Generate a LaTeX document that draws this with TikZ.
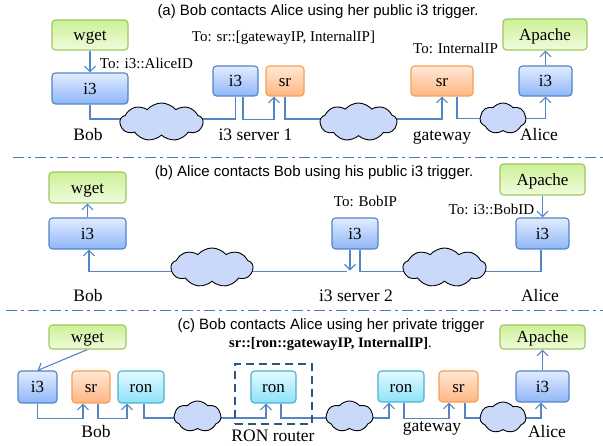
\documentclass[tikz,border=0pt]{standalone}
\usepackage{fontspec}
\setmainfont{Liberation Serif}
\newfontfamily\titlefont{Liberation Sans}
\usetikzlibrary{shapes.symbols, arrows.meta, backgrounds}

\definecolor{linkblue}{RGB}{84,134,196}
\definecolor{sepblue}{RGB}{70,120,186}
\definecolor{cloudfill}{RGB}{202,216,250}
\definecolor{dashnavy}{RGB}{50,85,125}

\tikzset{
  box/.style={draw, line width=1.1pt, rounded corners=3.5pt, inner sep=0pt, text height=12pt, text depth=0pt, font=\fontsize{17}{19}\selectfont},
  appbox/.style={box, draw={rgb,255:red,160;green,198;blue,96}, top color={rgb,255:red,204;green,240;blue,150}, bottom color={rgb,255:red,240;green,252;blue,222}},
  i3box/.style={box, draw={rgb,255:red,82;green,132;blue,194}, top color={rgb,255:red,226;green,236;blue,255}, bottom color={rgb,255:red,142;green,182;blue,248}},
  srbox/.style={box, draw={rgb,255:red,246;green,158;blue,84}, top color={rgb,255:red,255;green,232;blue,214}, bottom color={rgb,255:red,255;green,182;blue,130}},
  ronbox/.style={box, draw={rgb,255:red,76;green,176;blue,206}, top color={rgb,255:red,228;green,250;blue,255}, bottom color={rgb,255:red,140;green,226;blue,250}},
  net/.style={cloud, draw, black, line width=0.9pt, fill=cloudfill, cloud puffs=9, cloud puff arc=100, aspect=2, inner sep=0pt},
  link/.style={draw=linkblue, line width=1.1pt},
  arr/.style={link, -{Straight Barb[length=5.5pt,width=11pt]}},
  sep/.style={draw=sepblue, line width=0.9pt, dash pattern=on 11pt off 4pt on 3pt off 4pt},
  note/.style={anchor=base, font=\fontsize{15}{17}\selectfont, inner sep=0pt},
  place/.style={anchor=base, font=\fontsize{17.5}{19}\selectfont, inner sep=0pt},
  caption/.style={anchor=base, font=\titlefont\fontsize{15}{17}\selectfont, inner sep=0pt}
}

\begin{document}
\begin{tikzpicture}[x=1pt, y=-1pt]
  \useasboundingbox (0,0) rectangle (603,446);

  % Part (a)
  \node[caption] (capA) at (318,16) {(a) Bob contacts Alice using her public i3 trigger.};
  \node[appbox, minimum width=76pt, minimum height=30pt] (wgetA) at (90,35) {wget};
  \node[i3box, minimum width=76pt, minimum height=31pt] (bobA) at (90,88.5) {i3};
  \node[i3box, minimum width=45pt, minimum height=30pt] (serverA) at (235.5,81) {i3};
  \node[srbox, minimum width=38pt, minimum height=30pt] (srvsrA) at (285,81) {sr};
  \node[srbox, minimum width=62pt, minimum height=30pt] (gateA) at (442,81) {sr};
  \node[i3box, minimum width=53pt, minimum height=30pt] (aliceA) at (545.5,81) {i3};
  \node[appbox, minimum width=84pt, minimum height=31pt] (apacheA) at (545,34.5) {Apache};
  \node[net, minimum width=83pt, minimum height=38pt] (netAa) at (161.5,122) {};
  \node[net, minimum width=77pt, minimum height=38pt] (netAb) at (358.5,122) {};
  \node[net, minimum width=46pt, minimum height=31pt, cloud puffs=7] (netAc) at (503,118.5) {};

  \node[note] (toA) at (283.5,41.5) {To: sr::[gatewayIP, InternalIP]};
  \node[note] (toB) at (146.5,69) {To: i3::AliceID};
  \node[note] (toC) at (455.5,54) {To: InternalIP};
  \node[place] (lblA) at (88,141) {Bob};
  \node[place] (lblB) at (255.5,141) {i3 server 1};
  \node[place] (lblC) at (442,141) {gateway};
  \node[place] (lblD) at (539,141) {Alice};

  % Separators
  \coordinate (sepAl) at (13,157);
  \coordinate (sepAr) at (603,157);
  \coordinate (sepBl) at (6,310);
  \coordinate (sepBr) at (603,310);
  \draw[sep] (sepAl) -- (sepAr);
  \draw[sep] (sepBl) -- (sepBr);

  % Part (b)
  \node[caption] (capB) at (314,177) {(b) Alice contacts Bob using his public i3 trigger.};
  \node[appbox, minimum width=77pt, minimum height=31pt] (wgetB) at (87.5,187.5) {wget};
  \node[i3box, minimum width=77pt, minimum height=31pt] (bobB) at (87.5,233.5) {i3};
  \node[appbox, minimum width=85pt, minimum height=31pt] (apacheB) at (542.5,179.5) {Apache};
  \node[i3box, minimum width=46pt, minimum height=31pt] (serverB) at (355,233.5) {i3};
  \node[i3box, minimum width=53pt, minimum height=31pt] (aliceB) at (542.5,233.5) {i3};
  \node[net, minimum width=82pt, minimum height=39pt] (netBa) at (212,267.5) {};
  \node[net, minimum width=83pt, minimum height=39pt] (netBb) at (444.5,267.5) {};

  \node[note] (toD) at (365.5,207) {To: BobIP};
  \node[note] (toE) at (491.5,215) {To: i3::BobID};
  \node[place] (lblE) at (88,302) {Bob};
  \node[place] (lblF) at (356,302) {i3 server 2};
  \node[place] (lblG) at (540,302) {Alice};
  \coordinate (landB) at (347,271.5);

  % Part (c)
  \node[caption] (capC) at (331,330) {(c) Bob contacts Alice using her private trigger};
  \node[note, font=\bfseries\fontsize{14.5}{16}\selectfont] (capD) at (330.5,348) {sr::[ron::gatewayIP, InternalIP]{\mdseries .}};
  \node[appbox, minimum width=77pt, minimum height=24pt] (wgetC) at (87.5,337) {wget};
  \node[appbox, minimum width=85pt, minimum height=24pt] (apacheC) at (542.5,337) {Apache};
  \node[i3box, minimum width=39pt, minimum height=32pt] (bobC) at (37.5,387) {i3};
  \node[srbox, minimum width=38pt, minimum height=32pt] (srC) at (91,387) {sr};
  \node[ronbox, minimum width=46pt, minimum height=32pt] (ronC) at (141,387) {ron};
  \node[ronbox, minimum width=45pt, minimum height=32pt] (ronD) at (273.5,387) {ron};
  \node[ronbox, minimum width=46pt, minimum height=31pt] (ronE) at (401,386.5) {ron};
  \node[srbox, minimum width=39pt, minimum height=31pt] (srD) at (458.5,386.5) {sr};
  \node[i3box, minimum width=53pt, minimum height=31pt] (aliceC) at (542.5,386.5) {i3};
  \node[net, minimum width=47pt, minimum height=31pt, cloud puffs=7] (netCa) at (197.5,416.5) {};
  \node[net, minimum width=47pt, minimum height=31pt, cloud puffs=7] (netCb) at (349.5,416.5) {};
  \node[net, minimum width=46pt, minimum height=31pt, cloud puffs=7] (netCc) at (503,417.5) {};
  \node[draw=dashnavy, line width=1.8pt, dash pattern=on 8pt off 5pt, minimum width=77pt, minimum height=60pt, inner sep=0pt] (ronFrame) at (273.5,394) {};

  \node[place] (lblH) at (96,438) {Bob};
  \node[place] (lblI) at (273,441.5) {RON router};
  \node[place] (lblJ) at (432,432) {gateway};
  \node[place] (lblK) at (547,438) {Alice};

  \begin{scope}[on background layer]
    % Links of (a)
    \draw[arr] (wgetA.south) -- (bobA.north);
    \draw[link] (bobA.south) |- ([yshift=3pt]netAa.center);
    \draw[link] ([yshift=3pt]netAa.center) -| (serverA.south);
    \draw[arr] ([xshift=7.5pt]serverA.south) |- ([xshift=-11pt,yshift=-23pt]srvsrA.south) -- ([xshift=-11pt]srvsrA.south);
    \draw[link] (srvsrA.south) |- ([yshift=3pt]netAb.center);
    \draw[arr] ([yshift=3pt]netAb.center) -| (gateA.south);
    \draw[link] ([xshift=15pt]gateA.south) |- (netAc.center);
    \draw[arr] (netAc.center) -| (aliceA.south);
    \draw[arr] (aliceA.north) -- (aliceA.north |- apacheA.south);

    % Links of (b)
    \draw[arr] (wgetB.north |- bobB.north) -- (wgetB.south);
    \draw[arr] ([yshift=-4pt]netBa.center) -| ([xshift=1.5pt]bobB.south);
    \draw[link] ([yshift=-4pt]netBa.center) -- (landB);
    \draw[arr] ([xshift=-5pt]serverB.south) -- ++(0,21);
    \draw[link] ([xshift=5pt]serverB.south) |- ([yshift=-4pt]netBb.center);
    \draw[link] ([yshift=-4pt]netBb.center) -| ([xshift=-1.5pt]aliceB.south);
    \draw[arr] (apacheB.south) -- (aliceB.north);

    % Links of (c)
    \draw[arr] (wgetC.south) -- (bobC.north);
    \draw[arr] (bobC.south) -- ++(0,15) -| ([xshift=-8pt]srC.south);
    \draw[arr] ([xshift=7pt]srC.south) -- ++(0,15) -| ([xshift=-14pt]ronC.south);
    \draw[link] ([xshift=3pt]ronC.south) |- ([yshift=-1.5pt]netCa.center);
    \draw[arr] ([yshift=-1.5pt]netCa.center) -| ([xshift=-7.5pt]ronD.south);
    \draw[link] ([xshift=7.5pt]ronD.south) |- ([yshift=-1.5pt]netCb.center);
    \draw[arr] ([yshift=-1.5pt]netCb.center) -| ([xshift=-12pt]ronE.south);
    \draw[arr] ([xshift=3pt]ronE.south) -- ++(0,16) -| ([xshift=-9.5pt]srD.south);
    \draw[link] ([xshift=6.5pt]srD.south) |- ([yshift=-0.5pt]netCc.center);
    \draw[arr] ([yshift=-0.5pt]netCc.center) -| ([xshift=-1.5pt]aliceC.south);
    \draw[arr] (aliceC.north) -- (apacheC.south);
  \end{scope}
\end{tikzpicture}
\end{document}
